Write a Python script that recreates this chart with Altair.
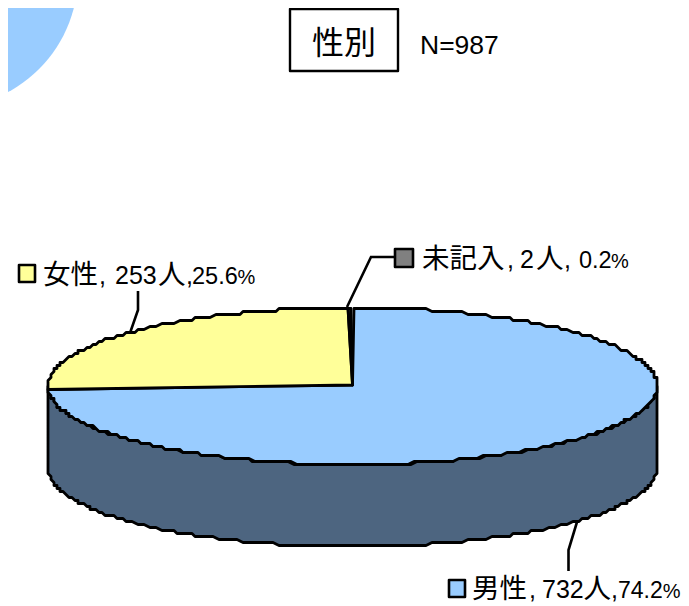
import math
import altair as alt
import pandas as pd

# --- chart values ---
categories = ["男性", "女性", "未記入"]
counts = [732, 253, 2]
colors = ["#99CCFF", "#FFFF99", "#808080"]
title_text = "性別"
n_text = "N=987"
# label pieces: text, style
male_label = [("男性", "cjk"), (",", "num"), ("732", "num"), ("人", "cjk"), (",", "num"), ("74.2", "tight2"), ("%", "pct")]
female_label = [("女性", "cjk"), (",", "num"), ("253", "num"), ("人", "cjk"), (",", "num"), ("25.6", "tight"), ("%", "pct")]
missing_label = [("未記入", "cjk"), (",", "num"), ("2", "num"), ("人", "cjk"), (",", "num"), ("0.2", "tight"), ("%", "pct")]

# --- layout (page pixels) ---
male_x = [472, 529, 542, 583.5, 611, 618, 662.8]
female_x = [43, 99, 115, 158, 186, 192, 237.5]
missing_x = [422, 507, 520, 536, 564, 579, 611]
CX, CY, RX, RY, DEPTH = 352.5, 386.5, 304.5, 78.5, 82
GRID = 3
STYLES = {
    "cjk": ("Noto Sans CJK JP", 27.5),
    "num": ("Liberation Sans", 25),
    "tight": ("Liberation Sans", 23.5),
    "tight2": ("Liberation Sans", 23),
    "pct": ("Liberation Sans", 20),
}
SIDE = "#4D6580"
X = alt.X("x:Q", axis=None, scale=alt.Scale(domain=[8, 681]))
Y = alt.Y("y:Q", axis=None, scale=alt.Scale(domain=[8, 606], reverse=True))


def rim(deg, dy=0):
    a = math.radians(deg)
    x = CX + RX * math.sin(a)
    y = CY - RY * math.cos(a) + dy
    return (round(x / GRID) * GRID, round(y / GRID) * GRID - 0.5)


def arc(a0, a1, dy=0):
    n = max(2, int(abs(a1 - a0)) + 1)
    pts = [rim(a0 + (a1 - a0) * i / (n - 1), dy) for i in range(n)]
    return [p for i, p in enumerate(pts) if i == 0 or p != pts[i - 1]]


def shape(points, fill, width=2.8):
    df = pd.DataFrame(points, columns=["x", "y"])
    df["i"] = range(len(df))
    return alt.Chart(df).mark_line(
        fill=fill, stroke="black", strokeWidth=width, strokeJoin="round",
        interpolate="linear-closed", clip=True,
    ).encode(x=X, y=Y, order=alt.Order("i:Q"))


def polyline(points):
    df = pd.DataFrame(points, columns=["x", "y"])
    df["i"] = range(len(df))
    return alt.Chart(df).mark_line(color="black", strokeWidth=2.6).encode(
        x=X, y=Y, order=alt.Order("i:Q"))


def text(s, x, y, size, align="left", font="Liberation Sans"):
    return alt.Chart(pd.DataFrame({"x": [x], "y": [y], "t": [s]})).mark_text(
        align=align, baseline="alphabetic", font=font, fontSize=size, color="black",
    ).encode(x=X, y=Y, text="t:N")


def label(pieces, xs, y):
    out = []
    for (s, style), x in zip(pieces, xs):
        font, size = STYLES[style]
        out.append(text(s, x, y, size, font=font))
    return out


def key(x0, y0, x1, y1, fill):
    return shape([(x0, y0), (x1, y0), (x1, y1), (x0, y1)], fill, 2.6)


# decorative disc in the corner
corner = pd.DataFrame(
    [(-55 + 133 * math.cos(math.radians(a)), -25 + 133 * math.sin(math.radians(a))) for a in range(0, 361, 3)],
    columns=["x", "y"],
)
corner["i"] = range(len(corner))
disc = alt.Chart(corner).mark_line(
    fill="#99CCFF", stroke="#99CCFF", strokeWidth=0, interpolate="linear-closed", clip=True
).encode(x=X, y=Y, order=alt.Order("i:Q"))

# slices from the counts, clockwise from 12 o'clock
total = sum(counts)
ends = [sum(counts[: i + 1]) / total * 360 for i in range(len(counts))]
starts = [0] + ends[:-1]
center = (CX, CY - 1.5)

side = shape(arc(90, 270) + arc(270, 90, DEPTH), SIDE)
slices = [shape([center] + arc(s, e), c) for s, e, c in zip(starts, ends, colors)]

layers = [
    disc,
    side,
    *slices,
    polyline([(577, 522), (568.5, 550), (568.5, 571)]),
    polyline([(130, 333), (138, 310), (138, 291)]),
    polyline([(347, 307), (371, 257), (394, 257)]),
    key(449, 580, 465, 597, colors[0]),
    key(19, 265, 35, 282, colors[1]),
    key(395, 249, 413, 267, colors[2]),
    *label(male_label, male_x, 598),
    *label(female_label, female_x, 284),
    *label(missing_label, missing_x, 268),
    shape([(290, 9), (398, 9), (398, 71), (290, 71)], "white", 2.4),
    text(title_text, 344, 54, 32, "center", "Noto Sans CJK JP"),
    text(n_text, 420, 54, 26.5),
]

chart = alt.layer(*layers).properties(
    width=673, height=598, padding=0, autosize=alt.AutoSizeParams(type="none")
).configure_view(stroke=None)
chart.save("out.html", embed_options={"renderer": "svg", "actions": False})
